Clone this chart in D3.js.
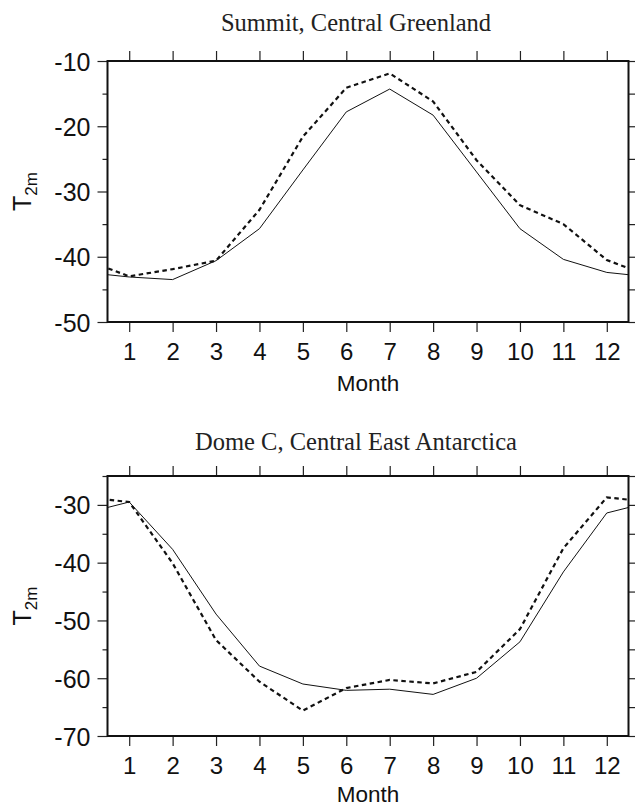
<!DOCTYPE html>
<html><head><meta charset="utf-8">
<script src="https://cdn.jsdelivr.net/npm/d3@7"></script>
<style>body{margin:0;background:#fff;} svg{display:block;}</style>
</head><body>
<svg id="chart" width="635" height="807"></svg>
<script>
const months = [1,2,3,4,5,6,7,8,9,10,11,12];
const monthLabels = ["1","2","3","4","5","6","7","8","9","10","11","12"];
// Summit, Central Greenland
const summitSolid  = [-43.1,-43.5,-40.6,-35.7,-26.7,-17.8,-14.3,-18.3,-27.0,-35.7,-40.4,-42.4];
const summitDashed = [-43.0,-41.9,-40.6,-32.8,-21.6,-14.1,-11.9,-16.2,-25.2,-32.1,-35.0,-40.5];
const summitTicks = [-50,-40,-30,-20,-10];
// Dome C, Central East Antarctica
const domeSolid  = [-29.5,-37.7,-48.9,-57.9,-61.0,-62.1,-61.9,-62.8,-60.0,-53.7,-41.6,-31.4];
const domeDashed = [-29.5,-40.1,-53.4,-60.6,-65.6,-61.7,-60.3,-60.9,-58.9,-51.5,-37.5,-28.7];
const domeTicks = [-70,-60,-50,-40,-30];

const panels = [
  {title:"Summit, Central Greenland", solid:summitSolid, dashed:summitDashed, ticks:summitTicks,
   domain:[-50,-10], top:61, bottom:322, titleY:31, monthY:391},
  {title:"Dome C, Central East Antarctica", solid:domeSolid, dashed:domeDashed, ticks:domeTicks,
   domain:[-70,-25], top:476, bottom:736, titleY:450, monthY:802}
];

const svg = d3.select("#chart");
const left = 107.5, right = 628.5;
const x = d3.scaleLinear().domain([0.5,12.5]).range([left,right]);
const sans = "Liberation Sans, Arial, Helvetica, sans-serif";

panels.forEach((p,i)=>{
  const y = d3.scaleLinear().domain(p.domain).range([p.bottom,p.top]);
  const g = svg.append("g");
  const clipId = "clip"+i;
  svg.append("defs").append("clipPath").attr("id",clipId)
    .append("rect").attr("x",left).attr("y",p.top).attr("width",right-left).attr("height",p.bottom-p.top);

  // title
  g.append("text").attr("x",356).attr("y",p.titleY).attr("text-anchor","middle")
    .attr("font-family","Liberation Serif, Times New Roman, serif").attr("font-size",24.5).attr("fill","#222")
    .text(p.title);

  const minor = d3.range(p.domain[0], p.domain[1]+0.1, 5);
  // left axis
  const yAxisL = d3.axisLeft(y).tickValues(p.ticks).tickFormat(d=>String(d)).tickSize(10).tickPadding(7);
  const gl = g.append("g").attr("transform",`translate(${left},0)`).call(yAxisL);
  gl.select(".domain").remove();
  gl.selectAll("text").attr("font-family",sans).attr("font-size",25).attr("fill","#111").attr("dy","0.36em");
  gl.selectAll("line").attr("stroke","#222").attr("stroke-width",1.2);
  const gl2 = g.append("g").attr("transform",`translate(${left},0)`)
    .call(d3.axisLeft(y).tickValues(minor.filter(v=>!p.ticks.includes(v))).tickSize(5).tickFormat(""));
  gl2.select(".domain").remove();
  gl2.selectAll("line").attr("stroke","#222").attr("stroke-width",1.2);
  // right axis
  const gr = g.append("g").attr("transform",`translate(${right},0)`)
    .call(d3.axisRight(y).tickValues(minor).tickSize(8).tickFormat(""));
  gr.select(".domain").remove();
  gr.selectAll("line").attr("stroke","#222").attr("stroke-width",1.2);
  // top axis
  const gt = g.append("g").attr("transform",`translate(0,${p.top})`)
    .call(d3.axisTop(x).tickValues(months).tickSize(10).tickFormat(""));
  gt.select(".domain").remove();
  gt.selectAll("line").attr("stroke","#222").attr("stroke-width",1.2);
  // bottom axis
  const gb = g.append("g").attr("transform",`translate(0,${p.bottom})`)
    .call(d3.axisBottom(x).tickValues(months).tickSize(10).tickPadding(11).tickFormat((d,k)=>monthLabels[k]));
  gb.select(".domain").remove();
  gb.selectAll("line").attr("stroke","#222").attr("stroke-width",1.2);
  gb.selectAll("text").attr("font-family",sans).attr("font-size",24).attr("fill","#111");

  // frame
  g.append("rect").attr("x",left).attr("y",p.top).attr("width",right-left).attr("height",p.bottom-p.top)
    .attr("fill","none").attr("stroke","#111").attr("stroke-width",2);

  // axis titles
  g.append("text").attr("x",(left+right)/2).attr("y",p.monthY).attr("text-anchor","middle")
    .attr("font-family",sans).attr("font-size",22.5).attr("fill","#111").text("Month");
  const yt = g.append("text").attr("transform",`translate(31,${(p.top+p.bottom)/2}) rotate(-90)`)
    .attr("text-anchor","middle").attr("font-family",sans).attr("font-size",25).attr("fill","#111");
  yt.append("tspan").text("T");
  yt.append("tspan").attr("font-size",17).attr("dy",6).text("2m");

  // lines (annual cycle wraps: Dec before Jan, Jan after Dec)
  const cyc = vals => [{m:0,v:vals[11]}].concat(months.map((m,k)=>({m,v:vals[k]})), [{m:13,v:vals[0]}]);
  const line = d3.line().x(d=>x(d.m)).y(d=>y(d.v));
  const lg = g.append("g").attr("clip-path",`url(#${clipId})`);
  lg.append("path").attr("d",line(cyc(p.solid))).attr("fill","none").attr("stroke","#111").attr("stroke-width",1);
  lg.append("path").attr("d",line(cyc(p.dashed))).attr("fill","none").attr("stroke","#111").attr("stroke-width",2.2)
    .attr("stroke-dasharray","4.5,3.5");
});
</script>
</body></html>
